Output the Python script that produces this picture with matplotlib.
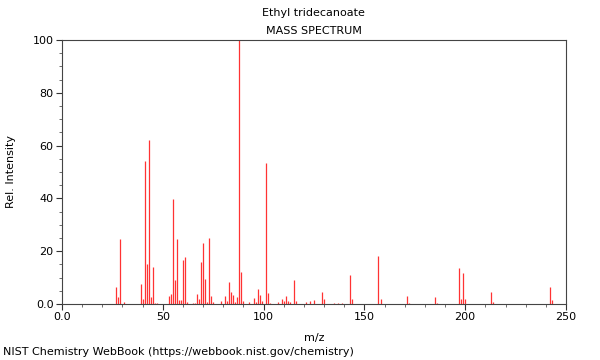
import numpy as np
import matplotlib
matplotlib.use("Agg")
import matplotlib.pyplot as plt
from matplotlib.ticker import MultipleLocator, FuncFormatter

# peaks (m/z, relative intensity)
mz = [27, 28, 29, 31, 39, 40, 41, 42, 43, 44, 45, 46, 47,
      53, 54, 55, 56, 57, 58, 59, 60, 61, 62, 65, 66, 67, 68, 69, 70, 71, 72, 73, 74, 75,
      79, 81, 82, 83, 84, 85, 86, 87, 88, 89, 90, 93, 95, 96, 97, 98, 99,
      101, 102, 103, 107, 109, 110, 111, 112, 113, 115, 116, 121, 123, 125,
      129, 130, 135, 137, 139, 143, 144, 157, 158, 171, 172, 185, 186,
      197, 198, 199, 200, 213, 214, 242, 243]
intensity = [6.6, 2.8, 24.6, 0.8, 7.6, 1.9, 54.2, 15.2, 62.1, 2.8, 14.0, 0.4, 0.3,
             3.2, 3.8, 39.6, 9.1, 24.6, 1.6, 1.6, 16.7, 17.8, 0.8, 0.4, 0.4, 3.8, 2.0, 15.9, 23.2, 9.5, 0.8, 25.1, 3.2, 0.8,
             1.1, 3.2, 1.1, 8.5, 4.5, 3.5, 0.8, 2.8, 100.0, 12.1, 1.0, 0.8, 2.3, 0.8, 5.8, 3.5, 1.0,
             53.3, 4.3, 0.5, 0.8, 2.0, 1.0, 3.0, 1.1, 0.8, 9.0, 1.0, 0.8, 1.1, 1.5,
             4.5, 1.8, 0.5, 0.5, 0.5, 11.1, 1.9, 18.2, 1.9, 3.0, 0.5, 2.5, 0.5,
             13.6, 1.9, 11.7, 1.8, 4.4, 0.8, 6.3, 1.5]

fig = plt.figure(figsize=(6, 3.6), dpi=100)
ax = fig.add_axes([0.1033, 0.1556, 0.84, 0.7333])

ax.vlines(mz, 0, intensity, colors="#ff3333", linewidth=0.9)

ax.set_xlim(0, 250)
ax.set_ylim(0, 100)
ax.xaxis.set_major_locator(MultipleLocator(50))
ax.xaxis.set_minor_locator(MultipleLocator(10))
ax.yaxis.set_major_locator(MultipleLocator(20))
ax.yaxis.set_minor_locator(MultipleLocator(5))
fmt = FuncFormatter(lambda v, p: "0.0" if v == 0 else f"{v:.0f}")
ax.xaxis.set_major_formatter(fmt)
ax.yaxis.set_major_formatter(fmt)
ax.tick_params(which="major", length=4, width=0.8, labelsize=8, color="#333333", pad=2)
ax.tick_params(which="minor", length=2, width=0.6, color="#555555")
for s in ax.spines.values():
    s.set_color("#444444")
    s.set_linewidth(0.8)

ax.set_xlabel("m/z", fontsize=8)
ax.set_ylabel("Rel. Intensity", fontsize=8)
ax.xaxis.set_label_coords(0.5, -0.109)
ax.yaxis.set_label_coords(-0.092, 0.5)

fig.text(0.523, 0.963, "Ethyl tridecanoate", ha="center", va="center", fontsize=8)
fig.text(0.523, 0.915, "MASS SPECTRUM", ha="center", va="center", fontsize=8)
fig.text(0.005, 0.022, "NIST Chemistry WebBook (https://webbook.nist.gov/chemistry)",
         ha="left", va="center", fontsize=8)

fig.savefig("out.png", dpi=100)
